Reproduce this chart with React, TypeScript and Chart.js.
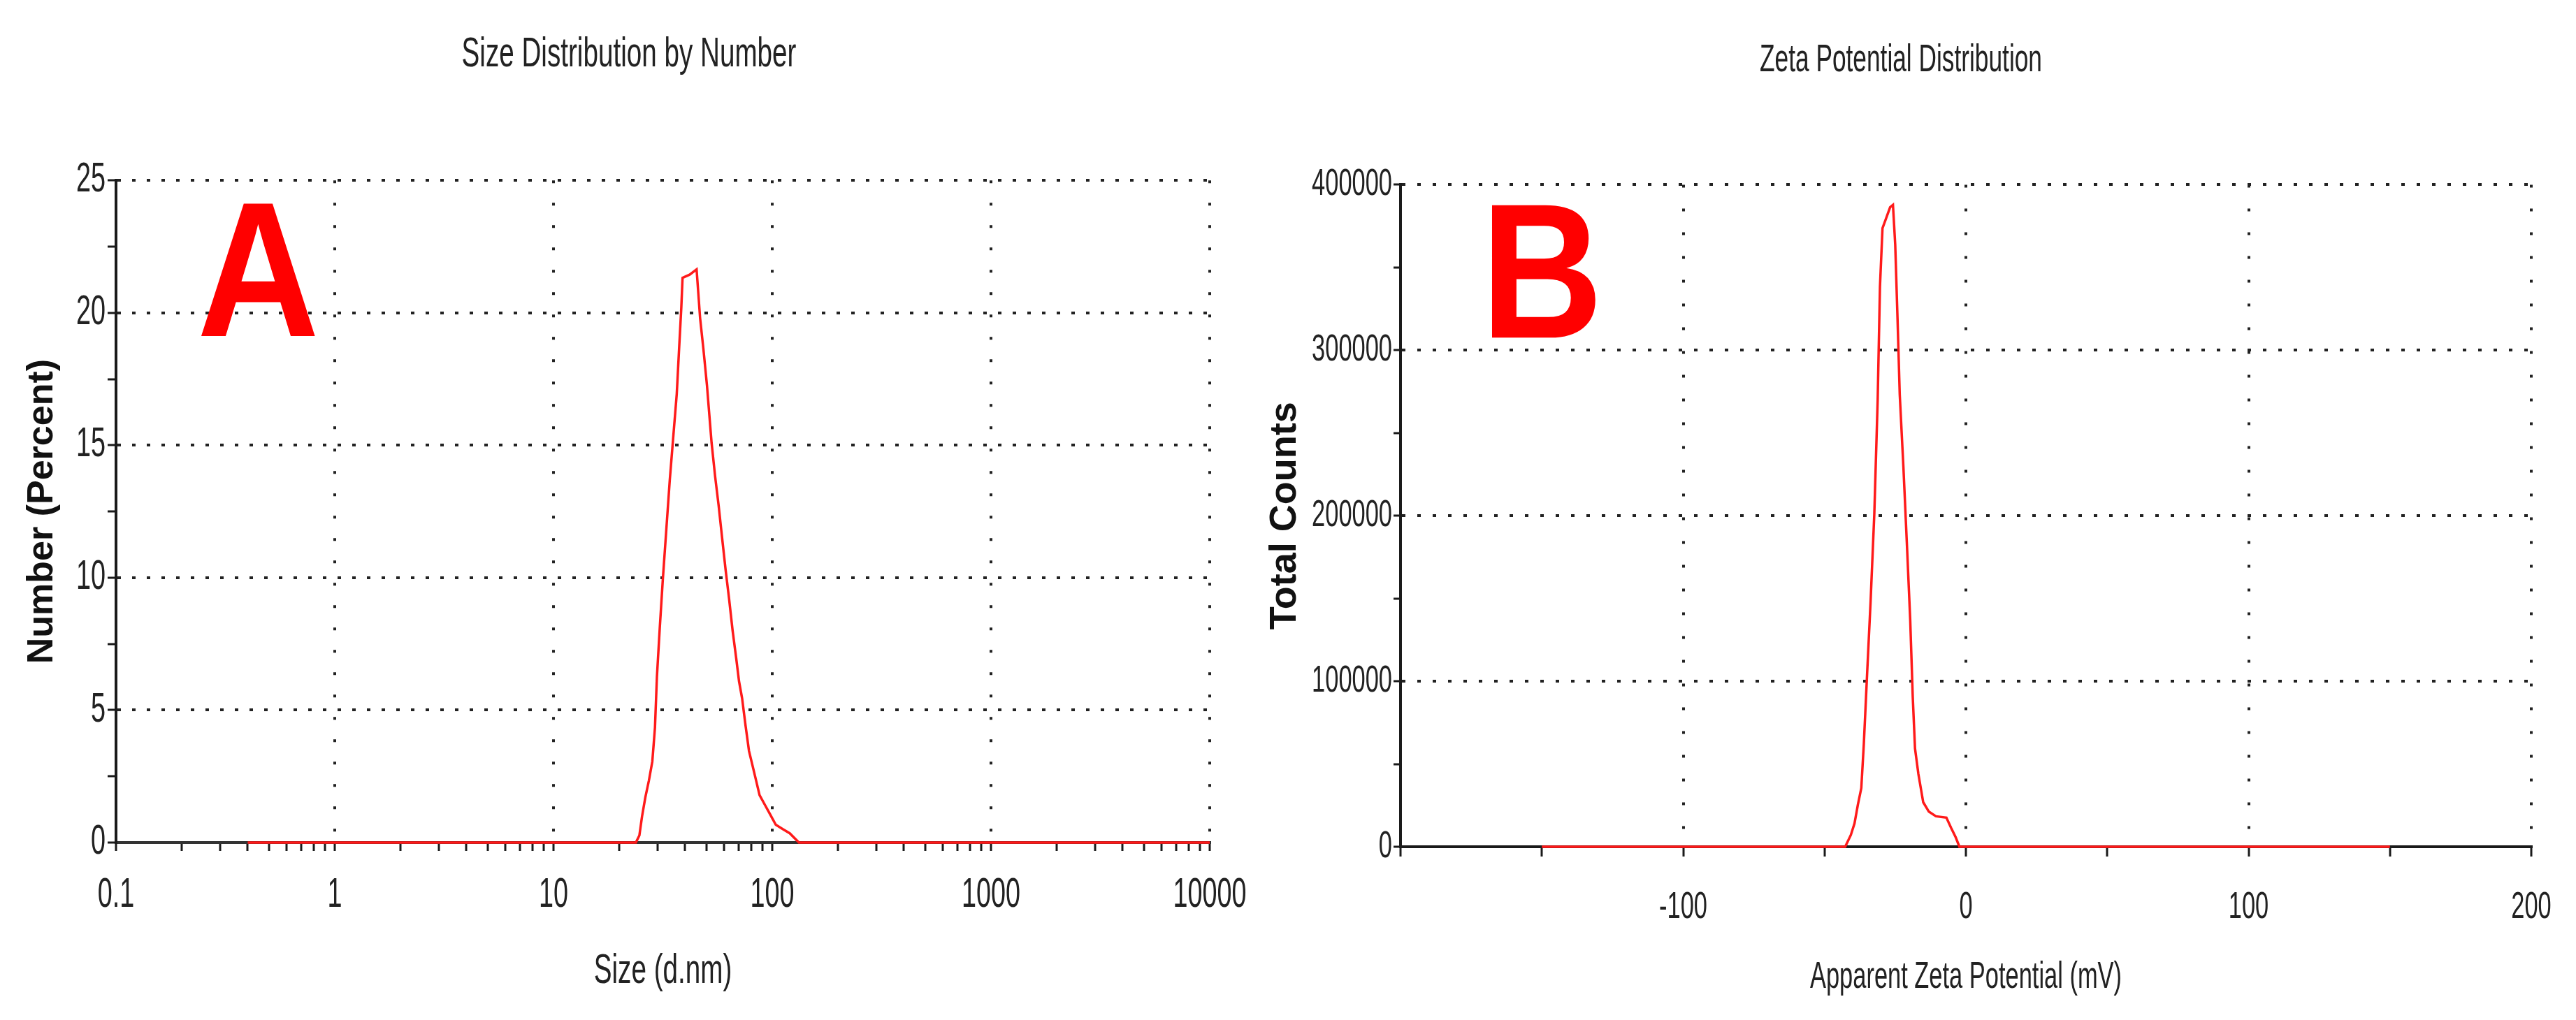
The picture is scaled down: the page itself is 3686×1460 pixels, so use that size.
import React, { useEffect, useRef } from 'react';
import { Chart, registerables } from 'chart.js';

Chart.register(...registerables);

const SANS = '"Liberation Sans", Arial, sans-serif';
const RED = '#ff1a1a';
const GRID = '#222222';
const INK = '#1a1a1a';

// ---------- Panel A : Size Distribution by Number ----------
const sizeTitle = 'Size Distribution by Number';
const sizeXTitle = 'Size (d.nm)';
const sizeYTitle = 'Number (Percent)';
const sizeNm = [0.4, 23.8, 24.7, 25.4, 26.3, 27.3, 28.3, 29.1, 29.7, 30.6, 31.6, 32.8, 34.0, 35.3, 36.6, 37.5, 38.4, 38.9, 41.9, 45.1, 46.8, 48.5, 50.3, 52.8, 54.8, 56.9, 59.0, 61.2, 63.5, 65.9, 68.4, 70.5, 72.8, 75.5, 78.3, 81.3, 84.4, 87.5, 91.9, 97.7, 103.8, 111.7, 120.2, 132.5, 10000];
const numberPercent = [0, 0, 0.27, 0.99, 1.71, 2.34, 3.06, 4.34, 6.25, 8.09, 9.92, 11.83, 13.67, 15.34, 16.94, 18.61, 20.2, 21.32, 21.44, 21.64, 19.8, 18.6, 17.26, 15.1, 13.83, 12.71, 11.5, 10.3, 9.2, 8.0, 6.97, 6.09, 5.45, 4.42, 3.46, 2.9, 2.34, 1.79, 1.47, 1.07, 0.67, 0.51, 0.35, 0, 0];
const sizeMajorTicks = [0.1, 1, 10, 100, 1000, 10000];
const sizeTickLabels = ['0.1', '1', '10', '100', '1000', '10000'];
const sizeMinorFactors = [2, 3, 4, 5, 6, 7, 8, 9];
const numberMax = 25;
const numberStep = 2.5;
const numberLabelStep = 5;

// ---------- Panel B : Zeta Potential Distribution ----------
const zetaTitle = 'Zeta Potential Distribution';
const zetaXTitle = 'Apparent Zeta Potential (mV)';
const zetaYTitle = 'Total Counts';
const zetaMv = [-150, -42.7, -40.7, -39.4, -38.2, -37.0, -36.1, -34.9, -33.7, -32.4, -31.2, -30.4, -29.5, -28.3, -26.8, -25.8, -25.0, -24.2, -23.4, -22.1, -20.9, -19.7, -18.8, -18.0, -16.8, -15.1, -13.1, -10.6, -6.9, -5.2, -3.6, -2.3, 150];
const totalCounts = [0, 0, 7100, 14150, 25500, 35400, 62300, 106000, 148600, 201000, 270300, 338300, 373700, 379300, 386400, 387800, 363800, 319900, 273200, 229300, 184000, 137300, 90600, 59400, 43900, 26900, 21200, 18400, 17600, 11300, 5700, 0, 0];
const zetaMin = -200;
const zetaMax = 200;
const zetaStep = 50;
const zetaLabelled = [-100, 0, 100, 200];
const countsMax = 400000;
const countsStep = 50000;
const countsLabelStep = 100000;

const panelLetters = ['A', 'B'];

// ---------- helpers ----------
// Draw upright text slightly condensed and tall, like the exported instrument plot.
function patchStretch(ctx: any) {
  if (ctx.__patched) return;
  ctx.__patched = true;
  ctx.__sx = 0.84;
  ctx.__sy = 1.3;
  const orig = ctx.fillText;
  ctx.fillText = function (text: string, x: number, y: number, maxWidth?: number) {
    const m = this.getTransform();
    const sx = this.__sx ?? 1;
    const sy = this.__sy ?? 1;
    if (Math.abs(m.b) > 1e-6 || (sx === 1 && sy === 1)) {
      return maxWidth === undefined ? orig.call(this, text, x, y) : orig.call(this, text, x, y, maxWidth);
    }
    this.save();
    this.translate(x, y);
    this.scale(sx, sy);
    if (maxWidth === undefined) orig.call(this, text, 0, 0);
    else orig.call(this, text, 0, 0, maxWidth / sx);
    this.restore();
  };
}

const panelLetterPlugin = {
  id: 'panelLetter',
  afterDraw(chart: any, _args: any, opts: any) {
    const { ctx, chartArea } = chart;
    const psx = ctx.__sx;
    const psy = ctx.__sy;
    ctx.save();
    ctx.__sx = 0.95;
    ctx.__sy = 1.08;
    ctx.font = `bold ${opts.size}px ${SANS}`;
    ctx.fillStyle = '#ff0000';
    ctx.textAlign = 'center';
    ctx.textBaseline = 'alphabetic';
    ctx.fillText(
      opts.text,
      chartArea.left + opts.fx * (chartArea.right - chartArea.left),
      chartArea.top + opts.fy * (chartArea.bottom - chartArea.top)
    );
    ctx.restore();
    ctx.__sx = psx;
    ctx.__sy = psy;
  },
};

function lineDataset(xs: number[], ys: number[]) {
  return {
    data: xs.map((x, i) => ({ x, y: ys[i] })),
    borderColor: RED,
    borderWidth: 3.5,
    pointRadius: 0,
    pointHoverRadius: 0,
    tension: 0,
    fill: false,
    clip: false,
    xAxisID: 'x',
    yAxisID: 'y',
  };
}

function sizeTickValues() {
  const out: number[] = [];
  for (let i = 0; i < sizeMajorTicks.length; i++) {
    out.push(sizeMajorTicks[i]);
    if (i < sizeMajorTicks.length - 1) {
      for (const f of sizeMinorFactors) out.push(sizeMajorTicks[i] * f);
    }
  }
  return out;
}

function majorIndex(v: number) {
  return sizeMajorTicks.findIndex((m) => Math.abs(m - v) < m * 1e-9);
}

function dummyRight(width: number) {
  return {
    position: 'right',
    display: true,
    afterFit: (s: any) => { s.width = width; },
    grid: { display: false, drawTicks: false },
    border: { display: false },
    ticks: { display: false },
  };
}

function buildConfigA(): any {
  return {
    type: 'line',
    data: { datasets: [lineDataset(sizeNm, numberPercent)] },
    plugins: [panelLetterPlugin],
    options: {
      responsive: false,
      animation: false,
      devicePixelRatio: 1,
      layout: { padding: 0 },
      events: [],
      plugins: {
        legend: { display: false },
        tooltip: { enabled: false },
        title: {
          display: true,
          text: sizeTitle,
          color: '#222',
          font: { family: SANS, size: 46, weight: 'normal', lineHeight: 1.2 },
          padding: { top: 51, bottom: 152 },
        },
        panelLetter: { text: panelLetters[0], size: 255, fx: 0.13, fy: 0.235 },
      },
      scales: {
        x: {
          type: 'logarithmic',
          min: sizeMajorTicks[0],
          max: sizeMajorTicks[sizeMajorTicks.length - 1],
          afterBuildTicks: (s: any) => { s.ticks = sizeTickValues().map((value) => ({ value })); },
          afterFit: (s: any) => { s.height = 254; s.paddingLeft = 0; s.paddingRight = 0; },
          ticks: {
            autoSkip: false, maxRotation: 0, minRotation: 0, padding: 37, color: '#222',
            font: { family: SANS, size: 45, lineHeight: 1.2 },
            callback: (v: number) => { const k = majorIndex(v); return k >= 0 ? sizeTickLabels[k] : ''; },
          },
          grid: {
            color: (c: any) => (c.tick && majorIndex(c.tick.value) > 0 ? GRID : 'rgba(0,0,0,0)'),
            lineWidth: 4, tickLength: 12, tickColor: INK, tickWidth: 3,
          },
          border: { display: true, color: '#333', width: 4, dash: [4, 28] },
          title: {
            display: true, text: sizeXTitle, color: '#222',
            font: { family: SANS, size: 46, lineHeight: 1.2 },
            padding: { top: 0, bottom: 42 },
          },
        },
        y: {
          type: 'linear',
          min: 0,
          max: numberMax,
          afterFit: (s: any) => { s.width = 166; },
          ticks: {
            stepSize: numberStep, autoSkip: false, padding: 3, color: '#222',
            font: { family: SANS, size: 45, lineHeight: 1.2 },
            callback: (v: number) => (v % numberLabelStep === 0 ? String(v) : ''),
          },
          grid: {
            color: (c: any) => (c.tick && c.tick.value > 0 && c.tick.value % numberLabelStep === 0 ? GRID : 'rgba(0,0,0,0)'),
            lineWidth: 4, tickLength: 12, tickColor: INK, tickWidth: 3,
          },
          border: { display: true, color: INK, width: 4, dash: [5, 16] },
          title: {
            display: true, text: sizeYTitle, color: '#111',
            font: { family: SANS, size: 52, weight: 'bold', lineHeight: 1.2 },
            padding: { top: 29, bottom: 0 },
          },
        },
        yr: dummyRight(69),
      },
    },
  };
}

function buildConfigB(): any {
  return {
    type: 'line',
    data: { datasets: [lineDataset(zetaMv, totalCounts)] },
    plugins: [panelLetterPlugin],
    options: {
      responsive: false,
      animation: false,
      devicePixelRatio: 1,
      layout: { padding: 0 },
      events: [],
      plugins: {
        legend: { display: false },
        tooltip: { enabled: false },
        title: {
          display: true,
          text: zetaTitle,
          color: '#222',
          font: { family: SANS, size: 42, weight: 'normal', lineHeight: 1.2 },
          padding: { top: 62, bottom: 152 },
        },
        panelLetter: { text: panelLetters[1], size: 255, fx: 0.125, fy: 0.231 },
      },
      scales: {
        x: {
          type: 'linear',
          min: zetaMin,
          max: zetaMax,
          afterFit: (s: any) => { s.height = 248; s.paddingLeft = 0; s.paddingRight = 0; },
          ticks: {
            stepSize: zetaStep, autoSkip: false, maxRotation: 0, minRotation: 0, padding: 49, color: '#222',
            font: { family: SANS, size: 41, lineHeight: 1.2 },
            callback: (v: number) => (zetaLabelled.includes(v) ? String(v) : ''),
          },
          grid: {
            color: (c: any) => (c.tick && c.tick.value > zetaMin && c.tick.value % 100 === 0 ? GRID : 'rgba(0,0,0,0)'),
            lineWidth: 4, tickLength: 14, tickColor: INK, tickWidth: 3,
          },
          border: { display: true, color: INK, width: 4, dash: [4, 30] },
          title: {
            display: true, text: zetaXTitle, color: '#222',
            font: { family: SANS, size: 41, lineHeight: 1.2 },
            padding: { top: 0, bottom: 36 },
          },
        },
        y: {
          type: 'linear',
          min: 0,
          max: countsMax,
          afterFit: (s: any) => { s.width = 227; },
          ticks: {
            stepSize: countsStep, autoSkip: false, padding: 2, color: '#222',
            font: { family: SANS, size: 41, lineHeight: 1.2 },
            callback: (v: number) => (v % countsLabelStep === 0 ? String(v) : ''),
          },
          grid: {
            color: (c: any) => (c.tick && c.tick.value > 0 && c.tick.value % countsLabelStep === 0 ? GRID : 'rgba(0,0,0,0)'),
            lineWidth: 4, tickLength: 10, tickColor: INK, tickWidth: 3,
          },
          border: { display: true, color: INK, width: 4, dash: [5, 17] },
          title: {
            display: true, text: zetaYTitle, color: '#111',
            font: { family: SANS, size: 54, weight: 'bold', lineHeight: 1.2 },
            padding: { top: 30, bottom: 0 },
          },
        },
        yr: dummyRight(41),
      },
    },
  };
}

function Panel({ build, left, width }: { build: () => any; left: number; width: number }) {
  const ref = useRef<HTMLCanvasElement>(null);
  useEffect(() => {
    const canvas = ref.current!;
    const ctx = canvas.getContext('2d')!;
    patchStretch(ctx);
    const chart = new Chart(ctx, build());
    return () => chart.destroy();
  }, []);
  return (
    <canvas
      ref={ref}
      width={width}
      height={1460}
      style={{ position: 'absolute', left, top: 0, width, height: 1460 }}
    />
  );
}

export default function App() {
  return (
    <div style={{ position: 'absolute', left: 0, top: 0, width: 3686, height: 1460, background: '#ffffff', overflow: 'hidden' }}>
      <Panel build={buildConfigA} left={0} width={1800} />
      <Panel build={buildConfigB} left={1777} width={1886} />
    </div>
  );
}
